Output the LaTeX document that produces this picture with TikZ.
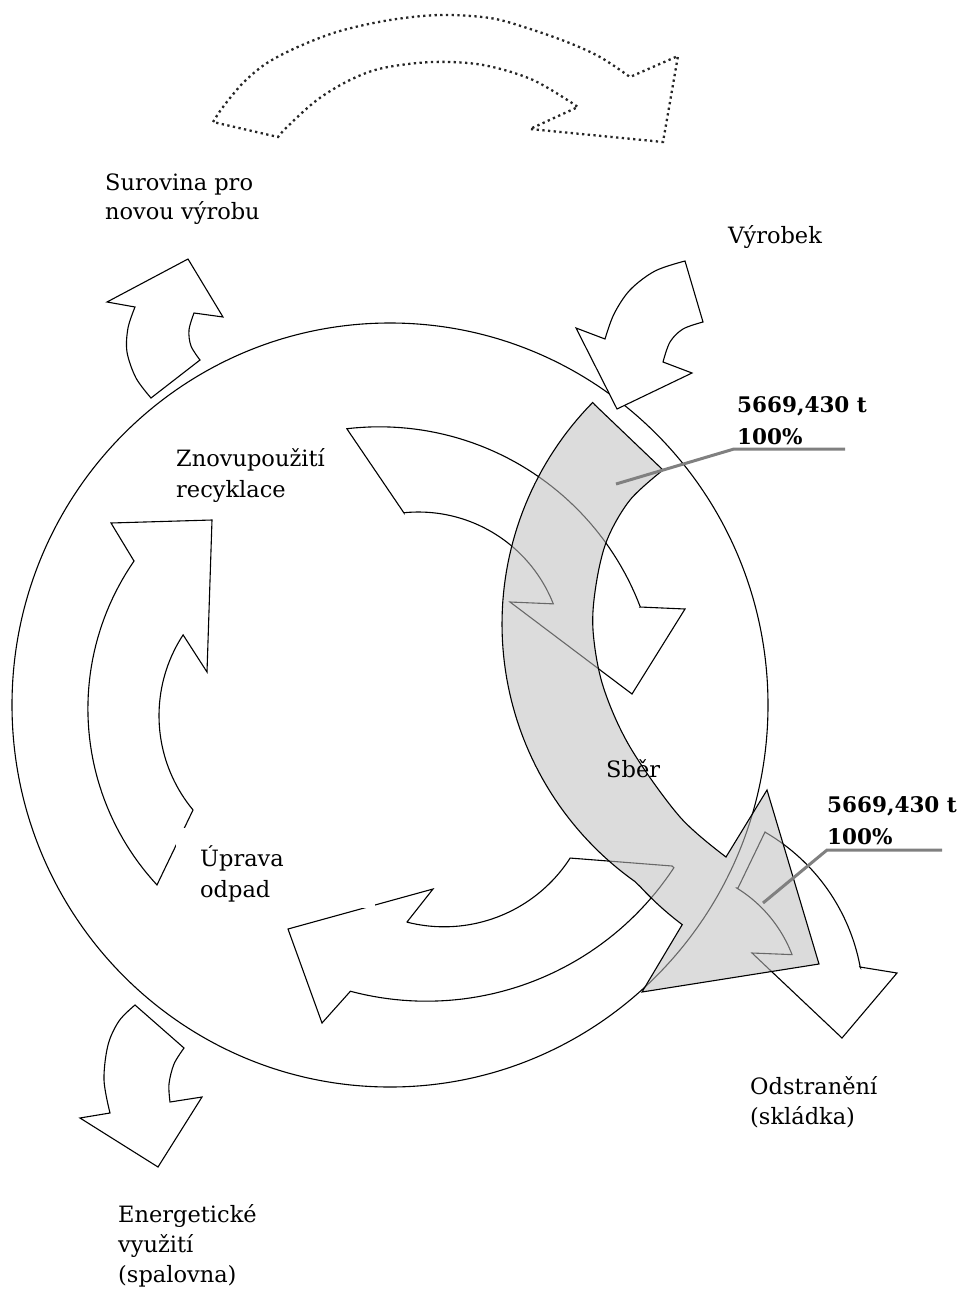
\documentclass[tikz,border=0pt]{standalone}
\usepackage{fontspec}
\setmainfont{DejaVu Serif}
\begin{document}
\begin{tikzpicture}[x=1pt,y=-1pt,
  shp/.style={draw=black, line width=1.1pt, line join=miter, fill=white},
  flow/.style={draw=black, line width=1.1pt, line join=miter, fill=black!25, fill opacity=0.55, draw opacity=1},
  dotarrow/.style={draw=black!85, line width=2.3pt, dash pattern=on 2.3pt off 3.4pt},
  leader/.style={draw=black!50, line width=3pt},
  lbl/.style={anchor=base west, inner sep=0pt, font=\fontsize{22.5}{27}\selectfont},
  blbl/.style={anchor=base west, inner sep=0pt, font=\fontsize{21.5}{27}\selectfont\bfseries},
  smooth arc/.style={smooth, tension=0.55}]
\useasboundingbox (0,0) rectangle (962,1290);

% big cycle
\draw[line width=1.1pt] (390,705) ellipse [x radius=378, y radius=382];

% dotted arrow at top
\draw[dotarrow] (213,122) -- plot[smooth arc] coordinates {(213,122) (223,107) (243,83) (267,63) (300,46) (340,31) (390,20) (440,15) (490,18) (527,28) (567,42) (600,57) (630,77)}
  -- (678,56) -- (663,142) -- (530,129) -- (578,107)
  -- plot[smooth arc] coordinates {(578,107) (533,80) (483,65) (433,62) (383,68) (350,80) (317,100) (287,127) (278,137)} -- cycle;

% Surovina arrow
\draw[shp] (151,398) -- plot[smooth arc] coordinates {(151,398) (136,378) (127,352) (128,328) (135,307)}
  -- (107,302) -- (188,259) -- (223,317) -- (194,313)
  -- plot[smooth arc] coordinates {(194,313) (189,330) (191,346) (200,360)} -- cycle;

% Vyrobek arrow
\draw[shp] (685,261) -- (703,322) -- plot[smooth arc] coordinates {(703,322) (683,329) (670,342) (663,362)}
  -- (692,373) -- (617,409) -- (576,328) -- (605,339)
  -- plot[smooth arc] coordinates {(605,339) (614,314) (630,290) (655,271) (685,261)} -- cycle;

% Znovupouziti arrow
\draw[shp] (347,429) -- (404,513)
  -- plot[domain=-95.7:-21.5, samples=40, variable=\t] ({418.4+145*cos(\t)}, {657+145*sin(\t)})
  -- (510,602) -- (632,694) -- (685,609) -- (640,607)
  -- plot[domain=-20.8:-96.7, samples=50, variable=\t] ({379.4+279*cos(\t)}, {705.8+279*sin(\t)}) -- cycle;

% Uprava arrow (left, up)
\draw[shp] (212,520) -- (111,523) -- (134,561)
  -- plot[domain=214.7:137.2, samples=50, variable=\t] ({347.3+259.4*cos(\t)}, {708.7+259.4*sin(\t)})
  -- (193,810)
  -- plot[domain=140.5:213.2, samples=40, variable=\t] ({306.6+147.6*cos(\t)}, {715.7+147.6*sin(\t)})
  -- (207,672) -- cycle;

% bottom arrow (towards left)
\draw[shp] (288,929) -- (433,889) -- (407,922)
  -- plot[domain=104.3:32.8, samples=40, variable=\t] ({444.1+150*cos(\t)}, {776.8+150*sin(\t)})
  -- (672,866)
  -- plot[domain=33.3:104.9, samples=50, variable=\t] ({426.5+296*cos(\t)}, {705.2+296*sin(\t)})
  -- (322,1023) -- cycle;

% Energeticke arrow
\draw[shp] (135,1005) -- (184,1048) -- plot[smooth arc] coordinates {(184,1048) (174,1064) (169,1084) (170,1102)}
  -- (202,1097) -- (158,1167) -- (80,1118) -- (110,1113)
  -- plot[smooth arc] coordinates {(110,1113) (104,1080) (108,1045) (119,1021) (135,1005)} -- cycle;

% Odstraneni arrow
\draw[shp] (765,832) -- (738,888)
  -- plot[domain=-58.4:-21, samples=30, variable=\t] ({666+135*cos(\t)}, {1003+135*sin(\t)})
  -- (752,953) -- (842,1038) -- (897,973) -- (860,967)
  -- plot[domain=-10.4:-59.8, samples=40, variable=\t] ({666+197.5*cos(\t)}, {1003+197.5*sin(\t)}) -- cycle;

% white text area of "Uprava odpad"
\fill[white] (176,828) rectangle (375,908);

% Sber flow (grey, translucent)
\draw[flow] (595,405) -- (663,470)
  -- plot[smooth arc] coordinates {(663,470) (630,500) (607,540) (596,585) (593,630) (603,686) (630,747) (680,817) (726,857)}
  -- (767,790) -- (819,964) -- (642,992) -- (682,925)
  -- plot[domain=114.3:224.5, samples=80, variable=\t] ({818+(316+1.3*max(0,125-\t))*cos(\t)}, {624+(316+1.3*max(0,125-\t))*sin(\t)})
  -- cycle;

% labels and leader lines
\coordinate (p1) at (616,484);
\coordinate (p2) at (763,903);
\node[blbl] (l1a) at (737,412) {5669,430 t};
\node[blbl] (l1b) at (737,444) {100\%};
\node[blbl] (l2a) at (827,812) {5669,430 t};
\node[blbl] (l2b) at (827,844) {100\%};
\draw[leader] (p1) -- ([xshift=-3pt,yshift=-5pt]l1b.base west) -- ++(111,0) coordinate (e1);
\draw[leader] (p2) -- ([xshift=0pt,yshift=-6pt]l2b.base west) -- ++(115,0) coordinate (e2);

% texts
\node[lbl] (sur1) at (105,190) {Surovina pro};
\node[lbl] (sur2) at (105,219) {novou výrobu};
\node[lbl] (vyr) at (728,243) {Výrobek};
\node[lbl] (zno1) at (176,466) {Znovupoužití};
\node[lbl] (zno2) at (176,497) {recyklace};
\begin{scope}
\clip (176,820) rectangle (375,901);
\node[lbl] (upr1) at (200,866) {Úprava};
\node[lbl] (upr2) at (200,897) {odpad};
\end{scope}
\node[lbl] (sber) at (606,777) {Sběr};
\node[lbl] (ods1) at (750,1094) {Odstranění};
\node[lbl] (ods2) at (750,1124) {(skládka)};
\node[lbl] (ene1) at (118,1222) {Energetické};
\node[lbl] (ene2) at (118,1252) {využití};
\node[lbl] (ene3) at (118,1282) {(spalovna)};
\end{tikzpicture}
\end{document}
